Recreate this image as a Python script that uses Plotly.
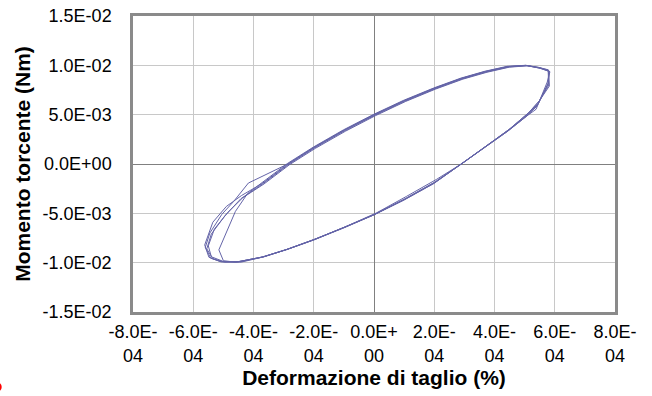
import numpy as np
import plotly.graph_objects as go

# Shear strain in units of 1e-4 (%), torque in units of 1e-3 Nm, per cycle
strain_c1 = [5.80, 5.48, 5.05, 4.45, 3.70, 2.90, 2.00, 1.00, 0.00, -1.00, -2.00, -2.85, -4.17, -4.66, -5.05, -5.45, -5.60,
             -5.42, -5.05, -4.50, -3.70, -2.90, -2.00, -1.00, 0.00, 1.00, 2.00, 2.85, 3.70, 4.45, 5.05, 5.42, 5.78]
torque_c1 = [9.50, 9.78, 10.0, 9.88, 9.38, 8.68, 7.68, 6.42, 5.00, 3.42, 1.68, 0.02, -1.93, -3.80, -5.10, -7.00, -8.45,
             -9.55, -9.92, -9.90, -9.42, -8.68, -7.70, -6.45, -5.15, -3.65, -1.95, -0.10, 1.70, 3.35, 4.80, 5.90, 8.20]

strain_c2 = [5.82, 5.50, 5.08, 4.48, 3.72, 2.92, 2.02, 1.02, 0.02, -0.98, -1.98, -2.83, -3.68, -4.42, -4.95, -5.40, -5.55,
             -5.35, -4.95, -4.45, -3.66, -2.86, -1.96, -0.96, 0.04, 1.04, 2.04, 2.90, 3.74, 4.48, 5.12, 5.48, 5.80]
torque_c2 = [9.40, 9.72, 9.97, 9.84, 9.33, 8.62, 7.62, 6.36, 4.93, 3.36, 1.62, -0.03, -1.98, -3.52, -5.25, -7.10, -8.60,
             -9.60, -9.95, -9.92, -9.40, -8.62, -7.62, -6.40, -5.08, -3.52, -1.80, 0.00, 1.84, 3.50, 5.15, 6.35, 8.00]

strain_c3 = [5.78, 5.45, 5.02, 4.42, 3.68, 2.88, 1.98, 0.98, -0.02, -1.02, -2.02, -2.88, -3.72, -4.20, -4.60, -5.15,
             -5.00, -4.60, -3.72, -2.92, -2.02, -1.02, -0.02, 0.98, 1.98, 2.82, 3.66, 4.42, 5.00, 5.38, 5.75]
torque_c3 = [9.55, 9.80, 10.0, 9.90, 9.40, 8.70, 7.70, 6.45, 5.02, 3.45, 1.70, 0.04, -1.95, -3.00, -4.80, -8.70,
             -9.80, -9.95, -9.45, -8.70, -7.72, -6.50, -5.18, -3.66, -1.98, -0.14, 1.62, 3.28, 4.70, 5.55, 8.30]

strain_c4 = [5.84, 5.52, 5.10, 4.50, 3.75, 2.95, 2.05, 1.05, 0.05, -0.95, -1.95, -2.80, -3.65, -4.35, -4.85, -5.30, -5.50,
             -5.40, -5.00, -4.40, -3.62, -2.82, -1.92, -0.92, 0.08, 1.08, 2.08, 2.95, 3.78, 4.52, 5.15, 5.50, 5.82]
torque_c4 = [9.35, 9.70, 9.95, 9.82, 9.30, 8.60, 7.60, 6.34, 4.90, 3.32, 1.58, -0.06, -2.02, -3.40, -4.90, -6.60, -8.30,
             -9.40, -9.88, -9.94, -9.38, -8.58, -7.58, -6.32, -4.96, -3.28, -1.55, 0.10, 1.90, 3.58, 5.25, 6.45, 7.90]

strain_c5 = [5.80, 5.47, 5.04, 4.44, 3.70, 2.90, 2.00, 1.00, 0.00, -1.00, -2.00, -2.85, -3.70, -4.40, -4.90, -5.35, -5.62,
             -5.48, -5.10, -4.55, -3.70, -2.90, -2.00, -1.00, 0.00, 1.00, 2.00, 2.86, 3.70, 4.46, 5.08, 5.45, 5.78, 5.80]
torque_c5 = [9.45, 9.76, 9.99, 9.86, 9.36, 8.66, 7.66, 6.40, 4.97, 3.40, 1.65, 0.00, -1.95, -3.20, -4.30, -5.90, -8.20,
             -9.45, -9.90, -9.93, -9.42, -8.66, -7.66, -6.44, -5.12, -3.58, -1.88, -0.06, 1.76, 3.42, 4.95, 6.10, 8.10, 9.45]

x_tickvals = [-8e-4, -6e-4, -4e-4, -2e-4, 0, 2e-4, 4e-4, 6e-4, 8e-4]
x_ticktext = ["-8.0E-<br>04", "-6.0E-<br>04", "-4.0E-<br>04", "-2.0E-<br>04", "0.0E+<br>00",
              "2.0E-<br>04", "4.0E-<br>04", "6.0E-<br>04", "8.0E-<br>04"]
y_tickvals = [-0.015, -0.01, -0.005, 0, 0.005, 0.01, 0.015]
y_ticktext = ["-1.5E-02", "-1.0E-02", "-5.0E-03", "0.0E+00", "5.0E-03", "1.0E-02", "1.5E-02"]

strain = np.concatenate([strain_c1, strain_c2, strain_c3, strain_c4, strain_c5]) * 1e-4
torque = np.concatenate([torque_c1, torque_c2, torque_c3, torque_c4, torque_c5]) * 1e-3

FONT = "Arial, Liberation Sans, sans-serif"

fig = go.Figure()
fig.add_trace(go.Scatter(x=strain, y=torque, mode="lines",
                         line=dict(color="#6464a8", width=1), showlegend=False))

fig.update_layout(
    width=652, height=396,
    margin=dict(l=133, r=37, t=16, b=84, autoexpand=False),
    paper_bgcolor="white", plot_bgcolor="white",
    font=dict(family=FONT, size=18, color="black"),
)
fig.update_xaxes(
    range=[-8e-4, 8e-4], tickvals=x_tickvals, ticktext=x_ticktext,
    showgrid=True, gridcolor="#c8c8c8", gridwidth=1,
    zeroline=True, zerolinecolor="#808080", zerolinewidth=1,
    showline=True, linecolor="#8a8a8a", linewidth=2.5, mirror=True,
    ticks="", ticklabelstandoff=2, automargin=False,
    tickfont=dict(size=18),
    title=dict(text="<b>Deformazione di taglio (%)</b>", font=dict(size=21), standoff=0),
)
fig.update_yaxes(
    range=[-0.015, 0.015], tickvals=y_tickvals, ticktext=y_ticktext,
    showgrid=True, gridcolor="#c8c8c8", gridwidth=1,
    zeroline=True, zerolinecolor="#808080", zerolinewidth=1,
    showline=True, linecolor="#8a8a8a", linewidth=2.5, mirror=True,
    ticks="", ticklabelstandoff=15, automargin=False,
    tickfont=dict(size=18),
    title=dict(text="<b>Momento torcente (Nm)</b>", font=dict(size=21), standoff=7),
)
# small red mark cut off at bottom-left edge
fig.add_shape(type="circle", xref="paper", yref="paper",
              x0=-0.2932, x1=-0.2724, y0=-0.2703, y1=-0.2365,
              fillcolor="red", line=dict(color="red", width=0))

fig.write_html("out.html", config={"displayModeBar": False},
               post_script="document.body.style.margin='0';")
